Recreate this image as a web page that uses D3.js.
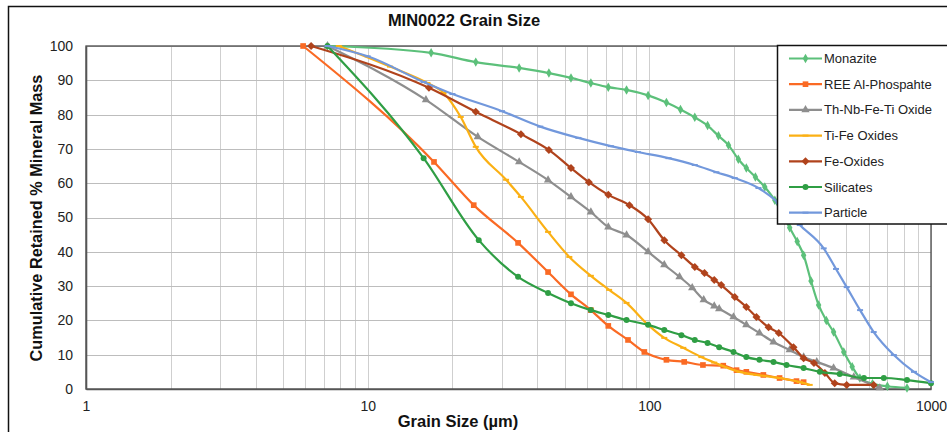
<!DOCTYPE html>
<html>
<head>
<meta charset="utf-8">
<script src="https://cdn.jsdelivr.net/npm/d3@7"></script>
<style>
  html, body { margin: 0; padding: 0; background: #fff; overflow: hidden; }
  svg { display: block; font-family: "Liberation Sans", Arial, sans-serif; }
</style>
</head>
<body>
<svg id="chart" width="947" height="432"></svg>
<script>
// Cumulative retained mass (%) versus grain size (µm), one array per mineral group
const monazite = [[7.2,100],[16.8,98],[24.2,95.3],[34.5,93.6],[44,92.1],[52.7,90.7],[62,89.2],[71.5,88],[83,87.2],[99,85.6],[115,83.5],[129,81.5],[145,79.2],[161,76.8],[176,73.8],[191,71.1],[207,67],[221,64.4],[238,61.8],[257,58.9],[279,55],[297,51],[315,47],[335,43],[353,39],[375,31.5],[399,24.5],[425,20],[451,16.6],[490,10.8],[525,6.5],[559,3.2],[620,1.5],[700,0.8],[822,0.3]];
const reePhosphate = [[5.9,100],[17.2,66.2],[23.8,53.6],[34.2,42.6],[43.7,34.1],[52.7,27.6],[62,23],[71.5,18.4],[84,14.3],[96,10.8],[115,8.5],[133,7.9],[155,7],[183,6.8],[204,5.5],[221,5],[254,4.1],[290,3.2],[333,2.3],[353,2]];
const thNbFeTi = [[7.2,100],[16.1,84.3],[24.6,73.5],[34.5,66.2],[43.7,60.9],[52.7,56],[62,51.6],[71.5,47.2],[83,44.9],[99,40],[113,36.2],[128,32.7],[142,29.5],[156,26],[170,24.2],[177,23.4],[199,21],[221,18.7],[246,16.3],[276,13.7],[315,11.4],[353,9.3],[393,7.9],[451,6.1],[532,3.5],[658,0.3]];
const tiFeOxides = [[7.9,100],[12,94],[16.3,89.2],[18.6,86.3],[21.4,79.3],[24.2,70.6],[31,61],[35,56],[43.7,45.8],[52,38.5],[62,33],[72,28.9],[83,25.1],[99,18.7],[113,14.9],[132,12],[153,9.3],[170,7.7],[209,5],[240,4.1],[290,3.2],[342,2],[371,1.2]];
const feOxides = [[6.3,100],[16.5,87.8],[24.2,80.8],[35,74.3],[44,69.7],[52.7,64.4],[61,60.3],[71.5,56.6],[85,53.6],[99,49.5],[113,43.4],[130,39],[145,35.6],[157,33.8],[170,31.8],[180,30.3],[201,26.8],[221,23.9],[240,21],[265,18],[288,16.3],[325,12.2],[353,9],[384,7.6],[420,4.7],[455,1.7],[502,1.2],[626,1.2]];
const silicates = [[7.2,100],[15.8,67.3],[24.8,43.4],[34.2,32.7],[43.7,28],[52.7,25],[62,23],[71.5,21.6],[83,20.1],[99,18.7],[113,17.2],[130,15.7],[145,14.3],[161,13.4],[177,12.2],[199,10.8],[221,9.3],[246,8.5],[276,7.9],[307,7],[353,6.1],[403,5],[474,4.4],[578,3.2],[680,3.2],[822,2.6],[1000,1.7]];
const particle = [[7.2,100],[10,97],[15.8,89.5],[20,86],[30,81],[41,76.5],[56,73.2],[73,70.8],[91,69.1],[117,67.3],[145,65.3],[173,63.2],[201,61.5],[244,58.6],[288,54.2],[342,47.8],[416,41],[460,35],[502,29.7],[560,23],[626,16.6],[738,9.9],[870,5],[1000,2]];

const seriesNames = ["Monazite","REE Al-Phospahte","Th-Nb-Fe-Ti Oxide","Ti-Fe Oxides","Fe-Oxides","Silicates","Particle"];
const seriesData = [monazite, reePhosphate, thNbFeTi, tiFeOxides, feOxides, silicates, particle];
const seriesColors = ["#5cc07a","#fa6a24","#8e8e8e","#fbb014","#b0431c","#2f9e44","#7298dc"];
const seriesMarkers = ["diamond","square","triangle","dash","square","circle","dash"];

const yTicks = [0,10,20,30,40,50,60,70,80,90,100];
const xTicks = [1,10,100,1000];

const svg = d3.select("#chart");

// Outer chart frame
svg.append("rect").attr("x",8.5).attr("y",6.5).attr("width",1200).attr("height",800)
  .attr("fill","#fff").attr("stroke","#111").attr("stroke-width",1.5);

const x = d3.scaleLog().domain([1,1000]).range([86,931]);
const y = d3.scaleLinear().domain([0,100]).range([389,46]);

// Log grid: a vertical line for every 1..9 step in each decade
const gridX = [];
for (let d = 1; d < 1000; d *= 10) for (let k = 1; k < 10; k++) gridX.push(d*k);
gridX.push(1000);

const grid = svg.append("g");
grid.selectAll("line.v").data(gridX).join("line")
  .attr("x1", d => Math.round(x(d))+0.5).attr("x2", d => Math.round(x(d))+0.5)
  .attr("y1", y(100)).attr("y2", y(0))
  .attr("stroke","#cfcfcf").attr("stroke-width",1);
grid.selectAll("line.h").data(yTicks).join("line")
  .attr("x1", x(1)).attr("x2", x(1000))
  .attr("y1", d => Math.round(y(d))+0.5).attr("y2", d => Math.round(y(d))+0.5)
  .attr("stroke","#bdbdbd").attr("stroke-width",1);

// Plot border
svg.append("rect").attr("x",x(1)).attr("y",y(100)).attr("width",x(1000)-x(1)).attr("height",y(0)-y(100))
  .attr("fill","none").attr("stroke","#4a4a4a").attr("stroke-width",1.3);

// Axes
const yAxis = svg.append("g").attr("transform",`translate(${x(1)},0)`)
  .call(d3.axisLeft(y).tickValues(yTicks).tickSize(0).tickPadding(13));
const xAxis = svg.append("g").attr("transform",`translate(0,${y(0)})`)
  .call(d3.axisBottom(x).tickValues(xTicks).tickFormat(d3.format("d")).tickSize(0).tickPadding(12));
[yAxis, xAxis].forEach(a => {
  a.select(".domain").attr("stroke","#555").attr("stroke-width",1.6);
  a.selectAll("text").attr("font-size",14).attr("fill","#222")
    .attr("font-family","'Liberation Sans', Arial, sans-serif");
});

// Titles
svg.append("text").attr("x",464).attr("y",26).attr("text-anchor","middle")
  .attr("font-size",16.5).attr("font-weight","bold").attr("fill","#111").text("MIN0022 Grain Size");
svg.append("text").attr("transform","translate(42,218) rotate(-90)").attr("text-anchor","middle")
  .attr("font-size",16.3).attr("font-weight","bold").attr("fill","#111").text("Cumulative Retained % Mineral Mass");
svg.append("text").attr("x",458).attr("y",427).attr("text-anchor","middle")
  .attr("font-size",16.5).attr("font-weight","bold").attr("fill","#111").text("Grain Size (µm)");

// Marker shapes
function marker(sel, kind, color, cx, cy) {
  if (kind === "dash") {
    sel.append("line").attr("x1",cx-3).attr("x2",cx+3).attr("y1",cy).attr("y2",cy)
      .attr("stroke",color).attr("stroke-width",2);
    return;
  }
  const types = {diamond: d3.symbolDiamond, square: d3.symbolSquare, triangle: d3.symbolTriangle, circle: d3.symbolCircle};
  const sizes = {diamond: 26, square: 32, triangle: 30, circle: 28};
  sel.append("path").attr("d", d3.symbol(types[kind], sizes[kind])())
    .attr("transform", kind === "square" && color === seriesColors[4]
      ? `translate(${cx},${cy}) rotate(45)` : `translate(${cx},${cy})`)
    .attr("fill",color);
}

const line = d3.line().x(d => x(d[0])).y(d => y(d[1])).curve(d3.curveMonotoneX);

const plot = svg.append("g");
seriesData.forEach((data, i) => {
  const g = plot.append("g");
  g.append("path").datum(data).attr("d", line)
    .attr("fill","none").attr("stroke",seriesColors[i]).attr("stroke-width",2.2)
    .attr("stroke-linejoin","round");
  data.forEach(d => marker(g, seriesMarkers[i], seriesColors[i], x(d[0]), y(d[1])));
});

// Legend
const lg = svg.append("g");
lg.append("rect").attr("x",777.5).attr("y",45.5).attr("width",300).attr("height",178.5)
  .attr("fill","#fff").attr("stroke","#111").attr("stroke-width",1.5);
seriesNames.forEach((name, i) => {
  const cy = 58.5 + i*25.7;
  lg.append("line").attr("x1",789).attr("x2",822).attr("y1",cy).attr("y2",cy)
    .attr("stroke",seriesColors[i]).attr("stroke-width",2.2);
  marker(lg, seriesMarkers[i], seriesColors[i], 805.5, cy);
  lg.append("text").attr("x",824).attr("y",cy+4.5).attr("font-size",13).attr("fill","#222").text(name);
});
</script>
</body>
</html>
